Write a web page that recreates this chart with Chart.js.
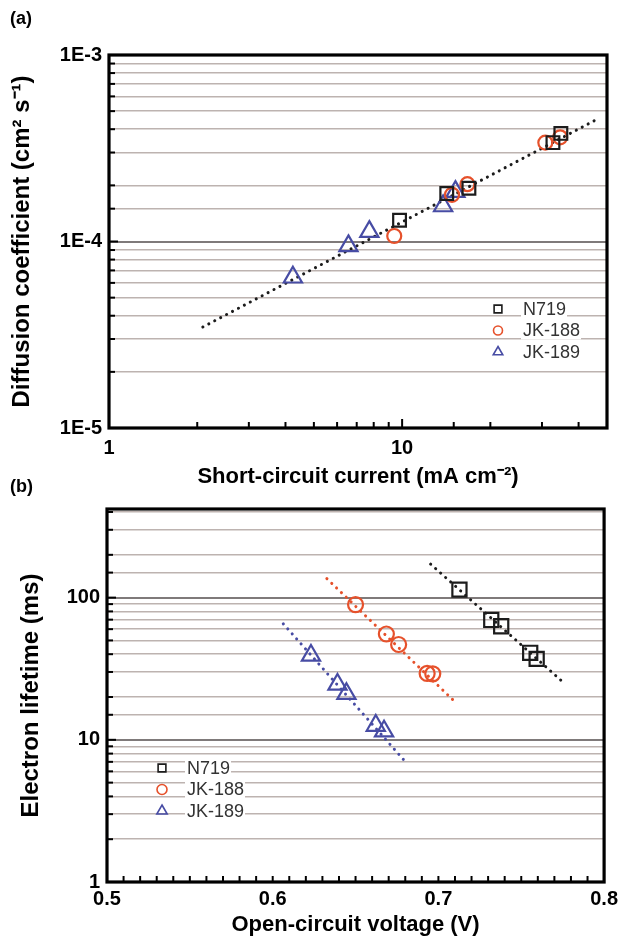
<!DOCTYPE html>
<html>
<head>
<meta charset="utf-8">
<title>Diffusion coefficient and electron lifetime</title>
<script src="https://cdn.jsdelivr.net/npm/chart.js@4.4.0/dist/chart.umd.min.js"></script>
<style>
  body { margin: 0; background: #fff; width: 623px; height: 942px; position: relative; overflow: hidden; font-family: "Liberation Sans", Arial, sans-serif; }
  canvas { position: absolute; left: 0; }
  .tag { position: absolute; left: 10px; font-weight: bold; font-size: 18px; line-height: 20px; }
</style>
</head>
<body>
<canvas id="chartA" width="623" height="490" style="top:0"></canvas>
<canvas id="chartB" width="623" height="452" style="top:490px"></canvas>
<div class="tag" style="top:8px">(a)</div>
<div class="tag" style="top:476px">(b)</div>
<script>
// --- Panel (a): diffusion coefficient vs short-circuit current ---
const jscN719 = [9.8, 14.2, 16.9, 32.7, 34.8];
const diffN719 = [1.30e-4, 1.81e-4, 1.93e-4, 3.39e-4, 3.80e-4];
const jscJK188 = [9.4, 14.8, 16.7, 30.8, 34.6];
const diffJK188 = [1.07e-4, 1.78e-4, 2.03e-4, 3.39e-4, 3.62e-4];
const jscJK189 = [4.24, 6.56, 7.73, 13.8, 15.2];
const diffJK189 = [6.43e-5, 9.47e-5, 1.13e-4, 1.55e-4, 1.85e-4];
const fitJsc = [2.09, 46.2];
const fitDiff = [3.48e-5, 4.52e-4];

// --- Panel (b): electron lifetime vs open-circuit voltage ---
const vocN719 = [0.7127, 0.7319, 0.7379, 0.7554, 0.7593];
const tauN719 = [113.8, 69.7, 62.9, 40.9, 37.1];
const vocJK188 = [0.650, 0.6686, 0.676, 0.6932, 0.6966];
const tauJK188 = [89.3, 55.5, 46.8, 29.3, 29.1];
const vocJK189 = [0.6231, 0.6391, 0.6445, 0.6622, 0.6672];
const tauJK189 = [39.2, 24.5, 21.1, 12.6, 11.5];
const fitVocN719 = [0.6953, 0.7768];
const fitTauN719 = [172, 24.5];
const fitVocJK188 = [0.6327, 0.7113];
const fitTauJK188 = [136, 17.9];
const fitVocJK189 = [0.6064, 0.6802];
const fitTauJK189 = [65.4, 6.99];

const seriesNames = ['N719', 'JK-188', 'JK-189'];

// --- Styles ---
const BLACK = '#1c1c1c', RED = '#e6512b', BLUE = '#474ca4';
const GRID = '#bdb3b0', GRID_MAJOR = '#7f7a7a';
const FONT = '"Liberation Sans", Arial, sans-serif';
Chart.defaults.font.family = FONT;
Chart.defaults.color = '#000';

function pts(xs, ys) {
    return xs.map((x, i) => ({ x: x, y: ys[i] }));
}

function isDecade(v) {
    const l = Math.log10(v);
    return Math.abs(l - Math.round(l)) < 1e-6;
}

function markerSet(label, xs, ys, color, style, radius, legendRadius) {
    return {
        label: label, data: pts(xs, ys), showLine: false,
        pointStyle: style, pointRadius: radius, pointHoverRadius: radius,
        pointBorderWidth: 2.2, pointBorderColor: color, pointBackgroundColor: 'rgba(0,0,0,0)',
        borderColor: color, legendRadius: legendRadius, inLegend: true
    };
}

function fitSet(xs, ys, color) {
    return {
        label: 'fit', data: pts(xs, ys), showLine: true, pointRadius: 0,
        borderColor: color, borderWidth: 3, borderDash: [0.1, 6.6], borderCapStyle: 'round', fill: false
    };
}

// thick frame round the plot + short inward ticks on left and bottom
const framePlugin = {
    id: 'frame',
    afterDraw(chart) {
        const { ctx, chartArea: a, scales } = chart;
        ctx.save();
        ctx.strokeStyle = '#000';
        ctx.lineWidth = 2;
        scales.x.ticks.forEach(t => {
            const px = scales.x.getPixelForValue(t.value);
            if (px <= a.left + 1 || px >= a.right - 1) return;
            const len = scales.x.type === 'logarithmic' && isDecade(t.value) ? 9 : 6;
            ctx.beginPath(); ctx.moveTo(px, a.bottom); ctx.lineTo(px, a.bottom - len); ctx.stroke();
        });
        scales.y.ticks.forEach(t => {
            const py = scales.y.getPixelForValue(t.value);
            if (py <= a.top + 1 || py >= a.bottom - 1) return;
            const len = isDecade(t.value) ? 9 : 6;
            ctx.beginPath(); ctx.moveTo(a.left, py); ctx.lineTo(a.left + len, py); ctx.stroke();
        });
        ctx.lineWidth = 3.2;
        ctx.strokeRect(a.left, a.top, a.right - a.left, a.bottom - a.top);
        ctx.restore();
    }
};

// legend drawn inside the plot area
const legendPlugin = {
    id: 'insetLegend',
    afterDatasetsDraw(chart, args, opts) {
        const { ctx, chartArea: a } = chart;
        const items = chart.data.datasets.filter(d => d.inLegend);
        ctx.save();
        ctx.font = '18px ' + FONT;
        ctx.textBaseline = 'middle';
        items.forEach((d, i) => {
            const x = a.left + opts.x;
            const y = a.top + opts.y + i * opts.gap;
            const w = ctx.measureText(d.label).width;
            ctx.fillStyle = '#fff';
            ctx.fillRect(x + 23, y - 9, w + 3, 18);
            ctx.strokeStyle = d.pointBorderColor;
            ctx.fillStyle = 'rgba(0,0,0,0)';
            ctx.lineWidth = 1.6;
            Chart.helpers.drawPoint(ctx, { pointStyle: d.pointStyle, radius: d.legendRadius, borderWidth: 1.6, rotation: 0 }, x, y);
            ctx.fillStyle = '#333';
            ctx.fillText(d.label, x + 25, y + 1);
        });
        ctx.restore();
    }
};

function gridOpts() {
    return {
        drawTicks: false,
        color: c => (c.tick && isDecade(c.tick.value)) ? GRID_MAJOR : GRID,
        lineWidth: c => (c.tick && isDecade(c.tick.value)) ? 2 : 1.5
    };
}

// --- Chart (a) ---
new Chart(document.getElementById('chartA'), {
    type: 'scatter',
    data: {
        datasets: [
            markerSet(seriesNames[0], jscN719, diffN719, BLACK, 'rect', 9, 5.5),
            markerSet(seriesNames[1], jscJK188, diffJK188, RED, 'circle', 7, 4.5),
            markerSet(seriesNames[2], jscJK189, diffJK189, BLUE, 'triangle', 10.5, 5.5),
            fitSet(fitJsc, fitDiff, BLACK)
        ]
    },
    options: {
        responsive: false, animation: false, events: [],
        layout: { padding: { top: 55, right: 16, left: 0, bottom: 0 } },
        plugins: {
            legend: { display: false }, tooltip: { enabled: false },
            insetLegend: { x: 389, y: 254, gap: 21.5 }
        },
        scales: {
            x: {
                type: 'logarithmic', min: 1, max: 50,
                grid: { display: false, drawTicks: false },
                border: { display: false },
                ticks: {
                    autoSkip: false, maxRotation: 0, padding: 8,
                    font: { size: 20, weight: 'bold' },
                    callback: v => (v === 1 || v === 10) ? String(v) : ''
                },
                title: { display: true, text: 'Short-circuit current (mA cm⁻²)', font: { size: 22, weight: 'bold' }, padding: { top: 0, bottom: 0 } },
                afterFit: s => { s.height = 62; }
            },
            y: {
                type: 'logarithmic', min: 1e-5, max: 1e-3,
                grid: gridOpts(),
                border: { display: false },
                ticks: {
                    autoSkip: false, padding: 7,
                    font: { size: 20, weight: 'bold' },
                    callback: v => isDecade(v) ? '1E' + Math.round(Math.log10(v)) : ''
                },
                title: { display: true, text: 'Diffusion coefficient (cm² s⁻¹)', font: { size: 24, weight: 'bold' }, padding: { top: 8, bottom: 0 } },
                afterFit: s => { s.width = 109; }
            }
        }
    },
    plugins: [framePlugin, legendPlugin]
});

// --- Chart (b) ---
new Chart(document.getElementById('chartB'), {
    type: 'scatter',
    data: {
        datasets: [
            markerSet(seriesNames[0], vocN719, tauN719, BLACK, 'rect', 10, 5.5),
            markerSet(seriesNames[1], vocJK188, tauJK188, RED, 'circle', 7.5, 5),
            markerSet(seriesNames[2], vocJK189, tauJK189, BLUE, 'triangle', 10.5, 6),
            fitSet(fitVocN719, fitTauN719, BLACK),
            fitSet(fitVocJK188, fitTauJK188, RED),
            fitSet(fitVocJK189, fitTauJK189, BLUE)
        ]
    },
    options: {
        responsive: false, animation: false, events: [],
        layout: { padding: { top: 18, right: 17, left: 0, bottom: 0 } },
        plugins: {
            legend: { display: false }, tooltip: { enabled: false },
            insetLegend: { x: 55, y: 259, gap: 21.5 }
        },
        scales: {
            x: {
                type: 'linear', min: 0.5, max: 0.8,
                grid: { display: false, drawTicks: false },
                border: { display: false },
                ticks: {
                    stepSize: 0.01, maxTicksLimit: 40, autoSkip: false, maxRotation: 0, padding: 5,
                    font: { size: 20, weight: 'bold' },
                    callback: v => Math.abs(v * 10 - Math.round(v * 10)) < 1e-6 ? v.toFixed(1) : ''
                },
                title: { display: true, text: 'Open-circuit voltage (V)', font: { size: 22, weight: 'bold' }, padding: { top: 0, bottom: 4 } },
                afterFit: s => { s.height = 60; }
            },
            y: {
                type: 'logarithmic', min: 1, max: 420,
                grid: gridOpts(),
                border: { display: false },
                ticks: {
                    autoSkip: false, padding: 7,
                    font: { size: 20, weight: 'bold' },
                    callback: v => (v === 1 || v === 10 || v === 100) ? String(v) : ''
                },
                title: { display: true, text: 'Electron lifetime (ms)', font: { size: 24, weight: 'bold' }, padding: { top: 17, bottom: 0 } },
                afterFit: s => { s.width = 107; }
            }
        }
    },
    plugins: [framePlugin, legendPlugin]
});
</script>
</body>
</html>
